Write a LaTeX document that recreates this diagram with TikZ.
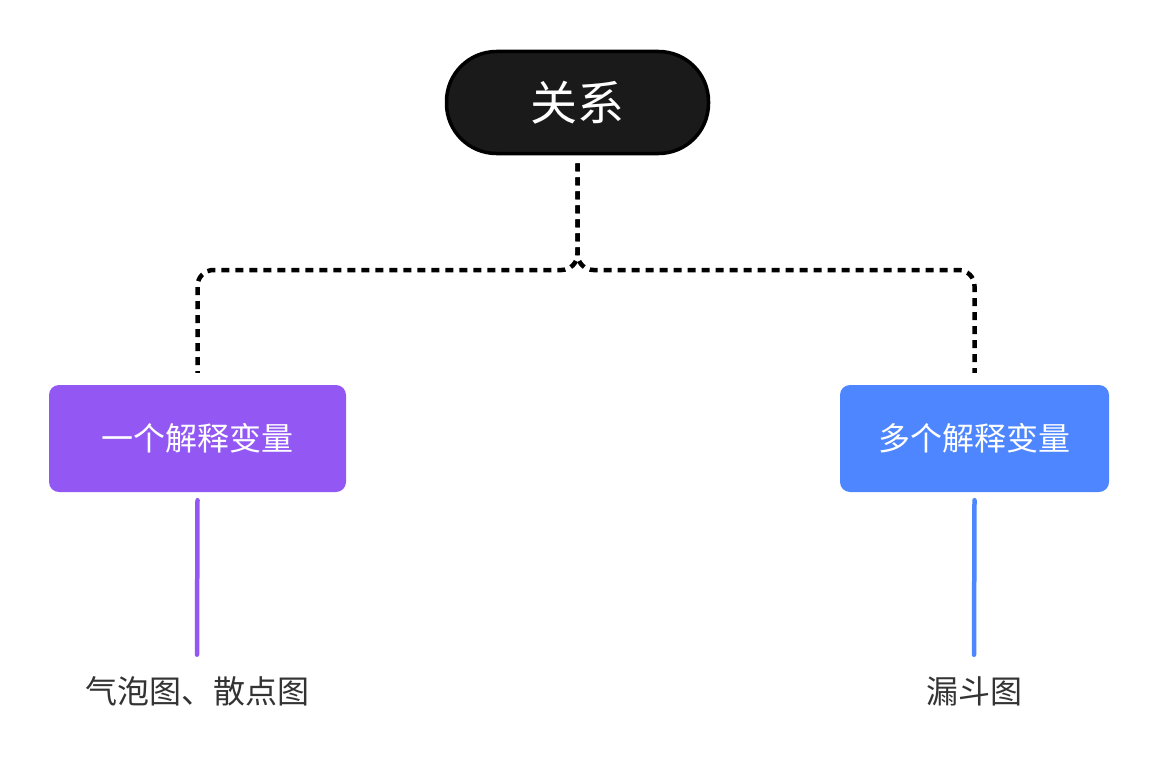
\documentclass[tikz,border=0pt]{standalone}
\usepackage{fontspec}
\newfontfamily\cjk{Noto Sans CJK SC}
\definecolor{rootfill}{HTML}{1A1A1A}
\definecolor{onepurple}{HTML}{9358F3}
\definecolor{manyblue}{HTML}{4D86FE}
\definecolor{leaftext}{HTML}{333333}
\begin{document}
\begin{tikzpicture}[x=1pt,y=-1pt,
    root/.style={draw=black,line width=3.5pt,fill=rootfill,rounded corners=50pt,
      minimum width=262pt,minimum height=102pt,text=white,font=\cjk\fontsize{47}{47}\selectfont},
    branch/.style={rounded corners=10pt,minimum height=107pt,text=white,
      font=\cjk\fontsize{32}{32}\selectfont},
    leaf/.style={text=leaftext,font=\cjk\fontsize{32}{32}\selectfont},
    dotline/.style={line width=4.5pt,dash pattern=on 8pt off 6pt,rounded corners=16pt},
    stem/.style={line width=4.5pt,line cap=round}]
    \useasboundingbox (0,0) rectangle (1156,760);

    \node[root] (rel) at (577.5,102.5) {关系};
    \node[branch,fill=onepurple,minimum width=297pt] (one) at (197.5,438.5) {一个解释变量};
    \node[branch,fill=manyblue,minimum width=269pt] (many) at (974.5,438.5) {多个解释变量};

    \node[leaf] (bubble) at (197,691) {气泡图、散点图};
    \node[leaf] (funnel) at (974,691) {漏斗图};

    \coordinate (fork) at (577.5,270);
    \draw[dotline] ([yshift=-8pt]rel.south) -- (fork) -| ([yshift=12pt]one.north);
    \draw[dotline] ([yshift=-8pt]rel.south) -- (fork) -| ([yshift=12pt]many.north);

    \draw[stem,onepurple] ([yshift=-8pt]one.south) -- ([yshift=18pt]bubble.north);
    \draw[stem,manyblue] ([yshift=-8pt]many.south) -- ([yshift=18pt]funnel.north);
\end{tikzpicture}
\end{document}
